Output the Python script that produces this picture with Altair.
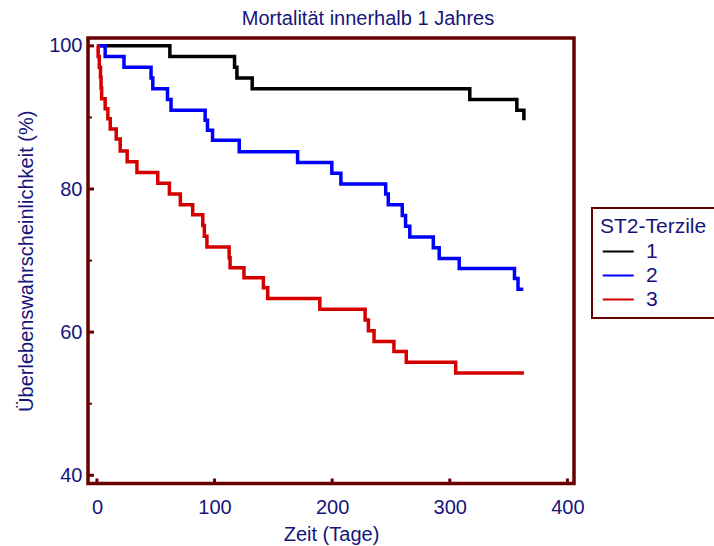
import altair as alt
import pandas as pd

# Kaplan-Meier steps per ST2 tertile: day of event and survival (%) from that day on
days_1 = [0, 62, 117, 119, 132, 317, 357, 363]
surv_1 = [100, 98.5, 97.0, 95.5, 94.0, 92.5, 91.0, 89.6]

days_2 = [0, 7, 23, 46, 47.5, 60, 63, 92, 94, 98.3, 121, 170.6, 199.7, 207.4,
          245.5, 247.7, 259.6, 262.4, 266, 286, 291, 308, 355, 358, 362.5]
surv_2 = [100, 98.5, 97.0, 95.5, 94.0, 92.5, 91.0, 89.6, 88.2, 86.8, 85.2, 83.7,
          82.2, 80.7, 79.3, 77.8, 76.3, 74.8, 73.3, 71.8, 70.3, 68.9, 67.5, 66.0, 66.0]

days_3 = [0, 1, 2, 3, 3.5, 4, 7, 9.3, 11.3, 16.4, 19.8, 25.7, 34, 51.7, 61.6,
          70.9, 81.4, 90, 91.3, 93.5, 112.4, 113.2, 125, 141.5, 145.2, 189.5,
          228, 230.8, 235.6, 252.5, 263, 305, 363]
surv_3 = [100, 98.5, 97.0, 95.6, 94.1, 92.6, 91.2, 89.8, 88.4, 87.0, 85.3, 83.8,
          82.3, 80.8, 79.3, 77.8, 76.4, 74.9, 73.4, 71.9, 70.4, 69.0, 67.6, 66.2,
          64.7, 63.2, 61.7, 60.2, 58.7, 57.3, 55.8, 54.3, 54.3]

groups = ["1", "2", "3"]
group_colors = ["#000000", "#0000FF", "#D40000"]

x_ticks = [0, 100, 200, 300, 400]
y_ticks = [40, 60, 80, 100]
y_minor = [50, 70, 90]

FRAME = "#680000"
NAVY = "#15157A"
FONT = "Liberation Sans"

rows = []
for g, ds, ss in zip(groups, [days_1, days_2, days_3], [surv_1, surv_2, surv_3]):
    rows += [{"day": d, "surv": s, "group": g} for d, s in zip(ds, ss)]
curves = pd.DataFrame(rows)

W, H = 486, 445.5

x_scale = alt.Scale(domain=[-7.6, 405.6], nice=False, zero=False)
y_scale = alt.Scale(domain=[38.85, 101.1], nice=False, zero=False)

x_axis = alt.Axis(values=x_ticks, title="Zeit (Tage)", ticks=False, tickSize=0,
                  domain=False, grid=False, labelFontSize=20, labelPadding=29.5,
                  labelBaseline="alphabetic", labelColor=NAVY, labelFont=FONT,
                  titleFontSize=20, titleFont=FONT, titleColor=NAVY,
                  titleFontWeight="normal", titleBaseline="alphabetic",
                  titleY=56.5, titleAnchor="middle")
y_axis = alt.Axis(values=y_ticks, title="Überlebenswahrscheinlichkeit (%)",
                  ticks=False, tickSize=0, domain=False, grid=False,
                  labelFontSize=20, labelPadding=6, labelColor=NAVY,
                  labelFont=FONT, labelBaseline="middle",
                  titleFontSize=20, titleFont=FONT, titleColor=NAVY,
                  titleFontWeight="normal", titleBaseline="alphabetic",
                  titleAngle=270, titleX=-56, titleAnchor="middle")

x_enc = alt.X("day:Q", scale=x_scale, axis=x_axis)
y_enc = alt.Y("surv:Q", scale=y_scale, axis=y_axis)

# legend swatch: a long flat stroke drawn rightwards so the rows stay compact
SWATCH = "M-1,0H3"

lines = alt.Chart(curves).mark_line(
    interpolate="step-after", strokeWidth=3.5
).encode(
    x=x_enc,
    y=y_enc,
    color=alt.Color(
        "group:N",
        scale=alt.Scale(domain=groups, range=group_colors),
        legend=alt.Legend(
            title="ST2-Terzile", orient="none", legendX=504, legendY=170,
            direction="vertical", symbolType=SWATCH, symbolSize=240,
            symbolStrokeWidth=2, labelFontSize=21, labelColor=NAVY,
            labelFont=FONT, labelOffset=25, titleFontSize=21,
            titleColor=NAVY, titleFont=FONT, titleFontWeight="normal",
            titlePadding=4, rowPadding=2, padding=8, strokeColor=FRAME,
        ),
    ),
)

# inward tick marks on the frame
xt = alt.Chart(pd.DataFrame({"day": x_ticks})).mark_rule(
    color=FRAME, strokeWidth=3
).encode(x=x_enc, y=alt.value(H), y2=alt.value(H - 5))

yt = alt.Chart(pd.DataFrame({"surv": y_ticks})).mark_rule(
    color=FRAME, strokeWidth=3
).encode(y=y_enc, x=alt.value(0), x2=alt.value(6))

ym = alt.Chart(pd.DataFrame({"surv": y_minor})).mark_rule(
    color=FRAME, strokeWidth=2
).encode(y=y_enc, x=alt.value(1), x2=alt.value(4))

chart = alt.layer(lines, xt, yt, ym).properties(
    width=W,
    height=H,
    title=alt.TitleParams(
        "Mortalität innerhalb 1 Jahres", fontSize=20, font=FONT, color=NAVY,
        fontWeight="normal", anchor="middle", dx=37, dy=20, offset=11,
        baseline="alphabetic", frame="group",
    ),
    padding={"left": 88, "top": 38, "right": 714 - 88 - W, "bottom": 546 - 38 - H},
    autosize=alt.AutoSizeParams(type="none"),
).configure_view(
    stroke=FRAME, strokeWidth=3.5
).configure_legend(
    strokeWidth=2
)

chart.save("out.html", embed_options={"renderer": "svg", "actions": False})
